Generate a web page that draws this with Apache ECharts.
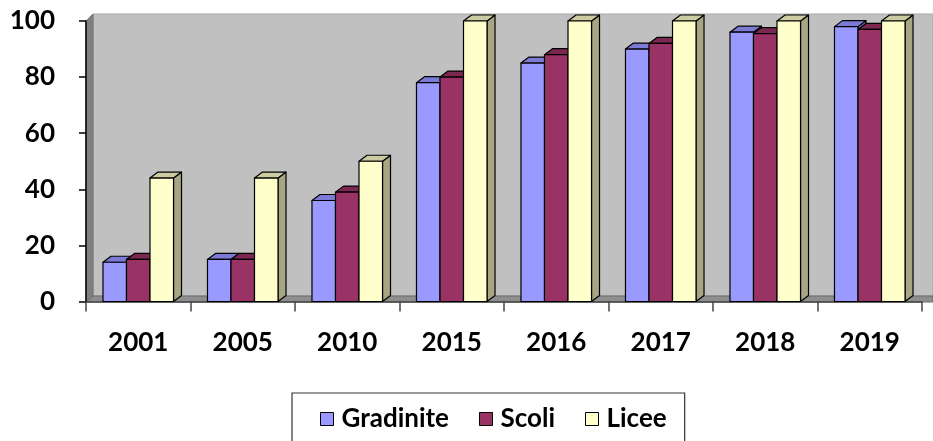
<!DOCTYPE html>
<html>
<head>
<meta charset="utf-8">
<script src="https://cdn.jsdelivr.net/npm/echarts@6/dist/echarts.min.js"></script>
<style>
html,body{margin:0;padding:0;background:#fff;}
#chart{width:933px;height:441px;}
</style>
</head>
<body>
<div id="chart"></div>
<script>
var years = ['2001','2005','2010','2015','2016','2017','2018','2019'];
var gradinite = [14, 15, 36, 78, 85, 90, 96, 98];
var scoli = [15, 15, 39, 80, 88, 92, 95.5, 97];
var licee = [44, 44, 50, 100, 100, 100, 100, 100];
var seriesNames = ['Gradinite', 'Scoli', 'Licee'];
var yTicks = [0, 20, 40, 60, 80, 100];

var palette = [
  {front:'#9999FF', top:'#7B7BD6', side:'#6E6EC0'},
  {front:'#993366', top:'#7A2851', side:'#6B2348'},
  {front:'#FFFFCC', top:'#CCCCA3', side:'#A6A684'}
];

function makeRender(si){
  return function(params, api){
    var idx = api.value(0), val = api.value(1);
    var base = api.coord([idx, 0]);
    var top = api.coord([idx, val]);
    var band = api.size([1, 0])[0];
    var bw = band * 0.225;
    var x0 = base[0] - 1.5 * bw + si * bw;
    var x1 = x0 + bw;
    var yb = base[1], yt = top[1];
    var dx = 8, dy = 6;
    var c = palette[si];
    var st = {stroke:'#000', lineWidth:1.2, lineJoin:'round'};
    return {type:'group', children:[
      {type:'polygon', shape:{points:[[x1,yb],[x1+dx,yb-dy],[x1+dx,yt-dy],[x1,yt]]},
        style:Object.assign({fill:c.side}, st)},
      {type:'polygon', shape:{points:[[x0,yt],[x0+dx,yt-dy],[x1+dx,yt-dy],[x1,yt]]},
        style:Object.assign({fill:c.top}, st)},
      {type:'rect', shape:{x:x0, y:yt, width:bw, height:yb-yt},
        style:Object.assign({fill:c.front}, st)}
    ]};
  };
}

var allData = [gradinite, scoli, licee];
var series = seriesNames.map(function(name, si){
  return {
    name: name,
    type: 'custom',
    z: 5,
    renderItem: makeRender(si),
    encode: {x: 0, y: 1},
    itemStyle: {color: palette[si].front, borderColor:'#000', borderWidth:1},
    data: allData[si].map(function(v, i){ return [i, v]; })
  };
});

var chart = echarts.init(document.getElementById('chart'), null, {renderer:'canvas'});
var font = 'Lato, "Open Sans", sans-serif';
chart.setOption({
  animation: false,
  backgroundColor: '#ffffff',
  grid: {left: 86, right: 11, top: 21, bottom: 139.5, containLabel: false},
  graphic: [
    {type:'rect', z:0, shape:{x:93, y:14, width:840, height:282},
      style:{fill:'#C0C0C0', stroke:'#A8A8A8', lineWidth:1}},
    {type:'polygon', z:0, shape:{points:[[86,21],[93,14],[93,296],[86,302]]},
      style:{fill:'#808080', stroke:'#707070', lineWidth:1}},
    {type:'polygon', z:0, shape:{points:[[86,302],[93,296],[933,296],[933,302]]},
      style:{fill:'#8E8E8E', stroke:'#6a6a6a', lineWidth:1}}
  ],
  xAxis: {
    type: 'category',
    data: years,
    axisLine: {show: true, lineStyle: {color: '#444', width: 1.5}},
    axisTick: {show: true, length: 10, lineStyle: {color: '#444', width: 1.5}},
    axisLabel: {margin: 28, fontSize: 26, fontWeight: 'bold', color: '#000', fontFamily: font},
    splitLine: {show: false}
  },
  yAxis: {
    type: 'value',
    min: 0, max: 100, interval: 20,
    axisLine: {show: true, lineStyle: {color: '#000', width: 1.5}},
    axisTick: {show: true, length: 7, lineStyle: {color: '#000', width: 1.5}},
    axisLabel: {margin: 31, fontSize: 26, fontWeight: 'bold', color: '#000', fontFamily: font,
      padding: [8, 0, 0, 0],
      formatter: function(v){ return yTicks.indexOf(v) >= 0 ? String(v) : ''; }},
    splitLine: {show: false}
  },
  legend: {
    left: 292, top: 393,
    padding: [13, 18, 24, 28],
    backgroundColor: '#fff',
    borderColor: '#333', borderWidth: 1.2, borderRadius: 0,
    itemWidth: 13, itemHeight: 13, itemGap: 30,
    icon: 'rect',
    textStyle: {fontSize: 26, fontWeight: 'bold', color: '#000', fontFamily: font, padding:[0,0,0,3]},
    data: seriesNames.map(function(n, i){
      return {name: n, icon:'rect', itemStyle: {color: palette[i].front, borderColor:'#000', borderWidth:1}};
    })
  },
  series: series
});
</script>
</body>
</html>
